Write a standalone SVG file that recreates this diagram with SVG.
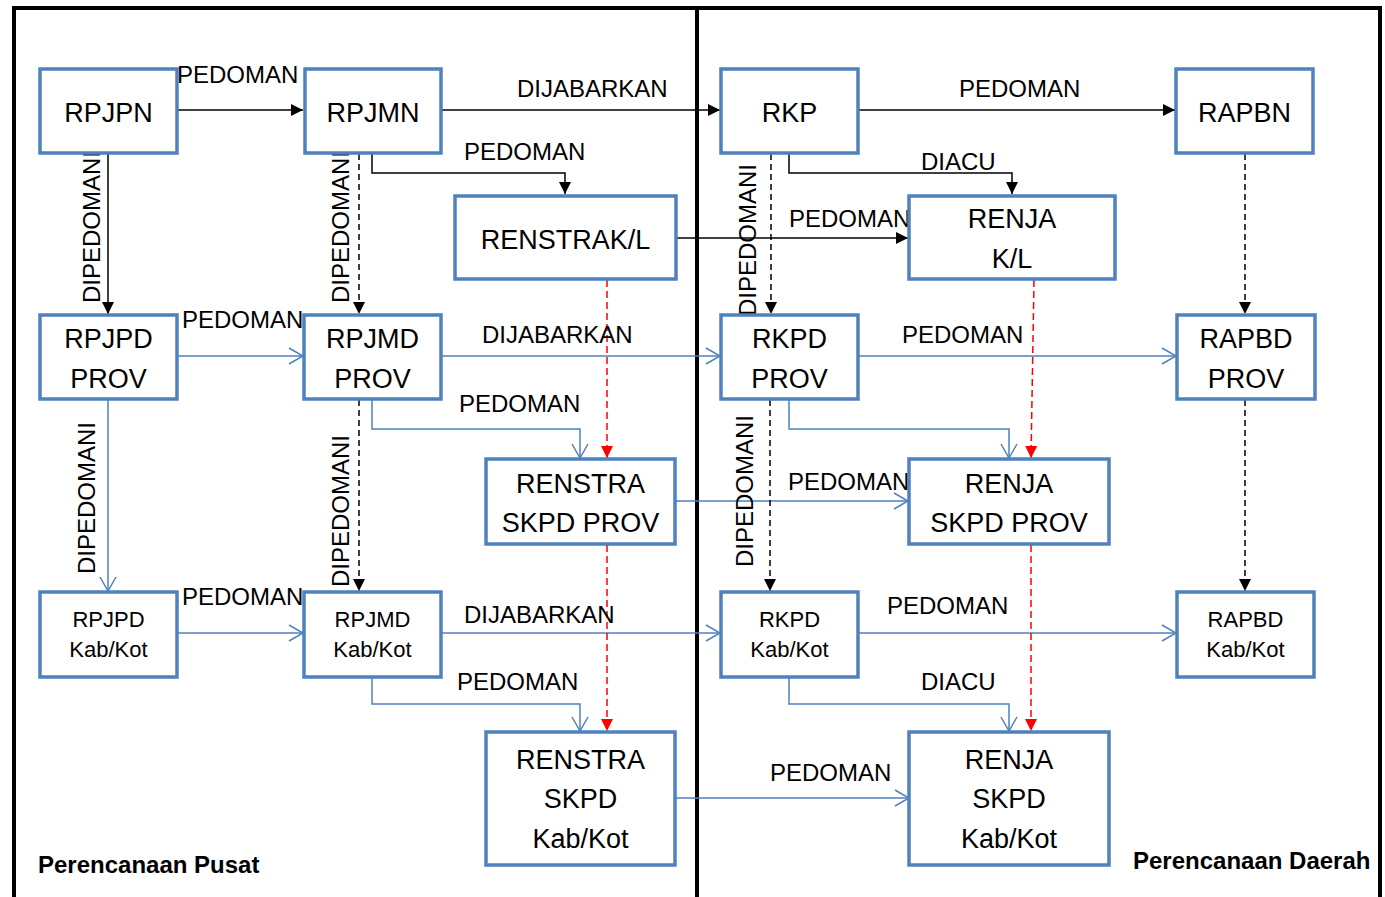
<svg xmlns="http://www.w3.org/2000/svg" width="1385" height="897" viewBox="0 0 1385 897">
<style>
.box{fill:#fff;stroke:#4F81BD;stroke-width:3.5}
.bt{font-family:"Liberation Sans",Arial,sans-serif;font-size:27px;fill:#000;text-anchor:middle}
.st{font-family:"Liberation Sans",Arial,sans-serif;font-size:22px;fill:#000;text-anchor:middle}
.lb{font-family:"Liberation Sans",Arial,sans-serif;font-size:24px;fill:#000}
.ttl{font-family:"Liberation Sans",Arial,sans-serif;font-size:24px;font-weight:bold;fill:#000}
.k{fill:none;stroke:#000;stroke-width:1.5}
.kd{fill:none;stroke:#000;stroke-width:1.5;stroke-dasharray:6 4}
.b{fill:none;stroke:#4F81BD;stroke-width:1.5}
.r{fill:none;stroke:#FF0000;stroke-width:1.5;stroke-dasharray:7 4}
.ka{marker-end:url(#ka)}
.ba{marker-end:url(#ba)}
.ra{marker-end:url(#ra)}
</style>
<defs>
<marker id="ka" viewBox="0 0 12 12" refX="12" refY="6" markerWidth="12" markerHeight="12" markerUnits="userSpaceOnUse" orient="auto"><path d="M0,0 L12,6 L0,12 Z" fill="#000"/></marker>
<marker id="ba" viewBox="0 0 16 18" refX="15" refY="9" markerWidth="16" markerHeight="18" markerUnits="userSpaceOnUse" orient="auto"><path d="M1,1 L15,9 L1,17" fill="none" stroke="#4F81BD" stroke-width="1.5"/></marker>
<marker id="ra" viewBox="0 0 12 12" refX="12" refY="6" markerWidth="12" markerHeight="12" markerUnits="userSpaceOnUse" orient="auto"><path d="M0,0 L12,6 L0,12 Z" fill="#FF0000"/></marker>
</defs>
<rect width="1385" height="897" fill="#fff"/>
<g id="frame">
<path d="M14,897 V8 H1380 V897" fill="none" stroke="#000" stroke-width="4"/>
<line x1="697" y1="8" x2="697" y2="897" stroke="#000" stroke-width="4"/>
<text class="ttl" x="38" y="873">Perencanaan Pusat</text>
<text class="ttl" x="1133" y="869">Perencanaan Daerah</text>
</g>
<g id="connectors">
<line class="k ka" x1="178" y1="110" x2="303" y2="110"/>
<line class="k ka" x1="442" y1="110" x2="720" y2="110"/>
<line class="k ka" x1="858" y1="110" x2="1175" y2="110"/>
<path class="k ka" d="M372,154 V173 H565 V194"/>
<path class="k ka" d="M789,154 V173 H1012 V194"/>
<line class="k ka" x1="676" y1="238" x2="908" y2="238"/>
<line class="k ka" x1="108" y1="154" x2="108" y2="314"/>
<line class="kd ka" x1="359" y1="154" x2="359" y2="314"/>
<line class="kd ka" x1="771" y1="154" x2="771" y2="314"/>
<line class="kd ka" x1="1245" y1="154" x2="1245" y2="314"/>
<line class="b ba" x1="178" y1="356" x2="303" y2="356"/>
<line class="b ba" x1="442" y1="356" x2="720" y2="356"/>
<line class="b ba" x1="859" y1="356" x2="1176" y2="356"/>
<path class="b ba" d="M372,400 V429 H580 V458"/>
<path class="b ba" d="M789,400 V429 H1009 V458"/>
<line class="b ba" x1="676" y1="501" x2="908" y2="501"/>
<line class="b ba" x1="108" y1="400" x2="108" y2="591"/>
<line class="kd ka" x1="359" y1="400" x2="359" y2="591"/>
<line class="kd ka" x1="770" y1="400" x2="770" y2="591"/>
<line class="kd ka" x1="1245" y1="400" x2="1245" y2="591"/>
<line class="r ra" x1="607" y1="280" x2="607" y2="458"/>
<line class="r ra" x1="1034" y1="280" x2="1031" y2="458"/>
<line class="b ba" x1="178" y1="633" x2="303" y2="633"/>
<line class="b ba" x1="442" y1="633" x2="720" y2="633"/>
<line class="b ba" x1="859" y1="633" x2="1176" y2="633"/>
<path class="b ba" d="M372,678 V704 H580 V731"/>
<path class="b ba" d="M789,678 V704 H1009 V731"/>
<line class="b ba" x1="676" y1="798" x2="909" y2="798"/>
<line class="r ra" x1="607" y1="545" x2="607" y2="731"/>
<line class="r ra" x1="1031" y1="545" x2="1031" y2="731"/>
<text class="lb" x="177" y="83">PEDOMAN</text>
<text class="lb" x="517" y="97">DIJABARKAN</text>
<text class="lb" x="959" y="97">PEDOMAN</text>
<text class="lb" x="464" y="160">PEDOMAN</text>
<text class="lb" x="921" y="170">DIACU</text>
<text class="lb" x="789" y="227">PEDOMAN</text>
<text class="lb" transform="translate(100,303) rotate(-90)">DIPEDOMANI</text>
<text class="lb" transform="translate(349,303) rotate(-90)">DIPEDOMANI</text>
<text class="lb" transform="translate(756,316) rotate(-90)">DIPEDOMANI</text>
<text class="lb" x="182" y="328">PEDOMAN</text>
<text class="lb" x="482" y="343">DIJABARKAN</text>
<text class="lb" x="902" y="343">PEDOMAN</text>
<text class="lb" x="459" y="412">PEDOMAN</text>
<text class="lb" x="788" y="490">PEDOMAN</text>
<text class="lb" transform="translate(95,574) rotate(-90)">DIPEDOMANI</text>
<text class="lb" transform="translate(349,587) rotate(-90)">DIPEDOMANI</text>
<text class="lb" transform="translate(753,567) rotate(-90)">DIPEDOMANI</text>
<text class="lb" x="182" y="605">PEDOMAN</text>
<text class="lb" x="464" y="623">DIJABARKAN</text>
<text class="lb" x="887" y="614">PEDOMAN</text>
<text class="lb" x="457" y="690">PEDOMAN</text>
<text class="lb" x="921" y="690">DIACU</text>
<text class="lb" x="770" y="781">PEDOMAN</text>
</g>
<g id="rpjpn"><rect class="box" x="40" y="69" width="137" height="84"/><text class="bt" x="108.5" y="122">RPJPN</text></g>
<g id="rpjmn"><rect class="box" x="305" y="69" width="136" height="84"/><text class="bt" x="373" y="122">RPJMN</text></g>
<g id="rkp"><rect class="box" x="721" y="69" width="137" height="84"/><text class="bt" x="789.5" y="122">RKP</text></g>
<g id="rapbn"><rect class="box" x="1176" y="69" width="137" height="84"/><text class="bt" x="1244.5" y="122">RAPBN</text></g>
<g id="renstrakl"><rect class="box" x="455" y="196" width="221" height="83"/><text class="bt" x="565.5" y="249">RENSTRAK/L</text></g>
<g id="renjakl"><rect class="box" x="909" y="196" width="206" height="83"/><text class="bt" x="1012" y="228">RENJA</text><text class="bt" x="1012" y="268">K/L</text></g>
<g id="rpjpdprov"><rect class="box" x="40" y="315" width="137" height="84"/><text class="bt" x="108.5" y="348">RPJPD</text><text class="bt" x="108.5" y="388">PROV</text></g>
<g id="rpjmdprov"><rect class="box" x="304" y="315" width="137" height="84"/><text class="bt" x="372.5" y="348">RPJMD</text><text class="bt" x="372.5" y="388">PROV</text></g>
<g id="rkpdprov"><rect class="box" x="721" y="315" width="137" height="84"/><text class="bt" x="789.5" y="348">RKPD</text><text class="bt" x="789.5" y="388">PROV</text></g>
<g id="rapbdprov"><rect class="box" x="1177" y="315" width="138" height="84"/><text class="bt" x="1246" y="348">RAPBD</text><text class="bt" x="1246" y="388">PROV</text></g>
<g id="renstraskpdprov"><rect class="box" x="486" y="459" width="189" height="85"/><text class="bt" x="580.5" y="493">RENSTRA</text><text class="bt" x="580.5" y="532">SKPD PROV</text></g>
<g id="renjaskpdprov"><rect class="box" x="909" y="459" width="200" height="85"/><text class="bt" x="1009" y="493">RENJA</text><text class="bt" x="1009" y="532">SKPD PROV</text></g>
<g id="rpjpdkab"><rect class="box" x="40" y="592" width="137" height="85"/><text class="st" x="108.5" y="627">RPJPD</text><text class="st" x="108.5" y="657">Kab/Kot</text></g>
<g id="rpjmdkab"><rect class="box" x="304" y="592" width="137" height="85"/><text class="st" x="372.5" y="627">RPJMD</text><text class="st" x="372.5" y="657">Kab/Kot</text></g>
<g id="rkpdkab"><rect class="box" x="721" y="592" width="137" height="85"/><text class="st" x="789.5" y="627">RKPD</text><text class="st" x="789.5" y="657">Kab/Kot</text></g>
<g id="rapbdkab"><rect class="box" x="1177" y="592" width="137" height="85"/><text class="st" x="1245.5" y="627">RAPBD</text><text class="st" x="1245.5" y="657">Kab/Kot</text></g>
<g id="renstraskpdkab"><rect class="box" x="486" y="732" width="189" height="133"/><text class="bt" x="580.5" y="769">RENSTRA</text><text class="bt" x="580.5" y="808">SKPD</text><text class="bt" x="580.5" y="848">Kab/Kot</text></g>
<g id="renjaskpdkab"><rect class="box" x="909" y="732" width="200" height="133"/><text class="bt" x="1009" y="769">RENJA</text><text class="bt" x="1009" y="808">SKPD</text><text class="bt" x="1009" y="848">Kab/Kot</text></g>
</svg>
